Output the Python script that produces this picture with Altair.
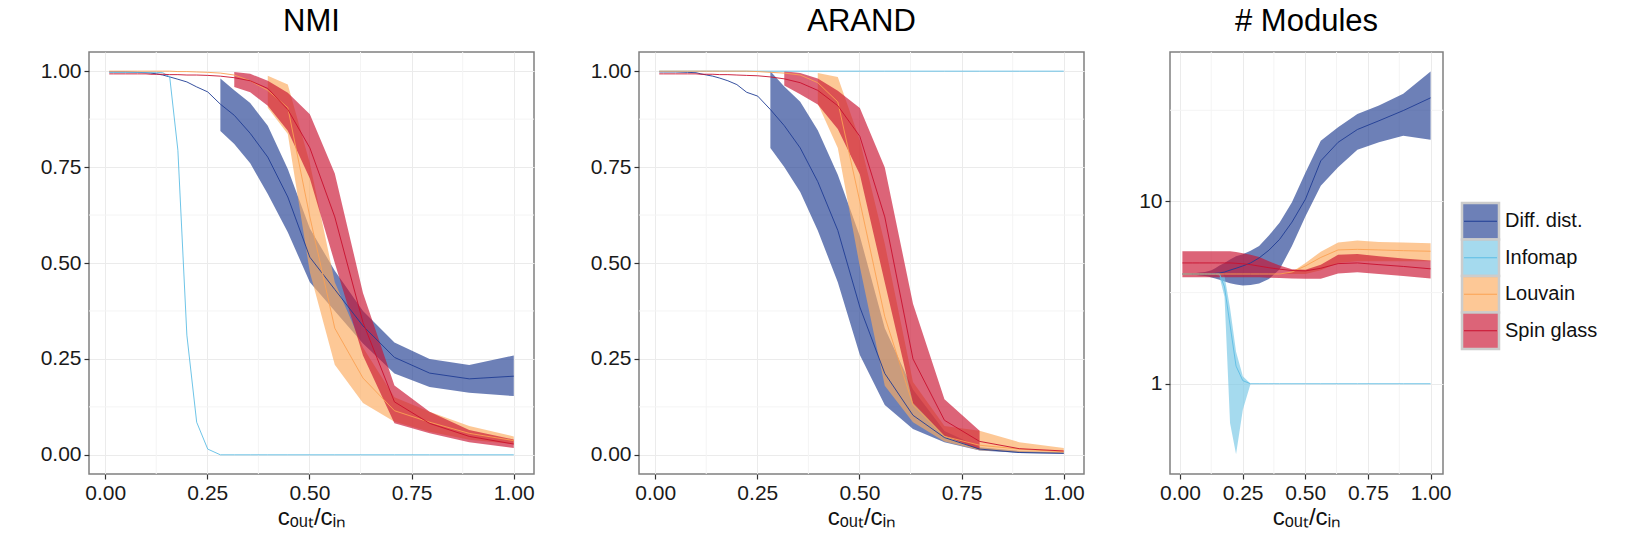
import altair as alt
import pandas as pd

# ---------------- data ----------------
X = [0.010, 0.020, 0.050, 0.079, 0.100, 0.112, 0.126, 0.141, 0.158, 0.178,
     0.200, 0.224, 0.251, 0.282, 0.316, 0.355, 0.398, 0.447, 0.501, 0.562,
     0.631, 0.708, 0.794, 0.891, 1.000]
SERIES = ["Diff. dist.", "Infomap", "Louvain", "Spin glass"]
FILL_COLORS = ["#1e3c91", "#75c6e5", "#fcab5e", "#c91130"]
LINE_COLORS = ["#1f3c94", "#5dbde4", "#fba253", "#c8102e"]
X_TICKS = [0.0, 0.25, 0.5, 0.75, 1.0]
X_MINOR = [0.125, 0.375, 0.625, 0.875]
Y_TICKS = [0.0, 0.25, 0.5, 0.75, 1.0]
Y_MINOR = [0.125, 0.375, 0.625, 0.875]
LOG_TICKS = [1, 10]
LOG_MINOR = [3.162, 31.62]
N = None

# NMI
NMI_DIFF_MID = [0.998, 0.998, 0.998, 0.997, 0.996, 0.995, 0.993, 0.990, 0.985, 0.979,
                0.972, 0.959, 0.946, 0.914, 0.885, 0.838, 0.776, 0.672, 0.515, 0.431,
                0.336, 0.254, 0.213, 0.198, 0.205]
NMI_DIFF_LO = [N] * 13 + [0.844, 0.810, 0.760, 0.680, 0.580, 0.450, 0.375, 0.290, 0.212, 0.177, 0.162, 0.153]
NMI_DIFF_HI = [N] * 13 + [0.981, 0.950, 0.917, 0.858, 0.745, 0.590, 0.480, 0.375, 0.293, 0.250, 0.234, 0.259]
NMI_INFO_MID = [0.997, 0.997, 0.997, 0.997, 0.997, 0.997, 0.997, 0.996, 0.985, 0.794,
                0.312, 0.085, 0.015, 0.0, 0.0, 0.0, 0.0, 0.0, 0.0, 0.0,
                0.0, 0.0, 0.0, 0.0, 0.0]
NMI_INFO_LO = [N] * 25
NMI_INFO_HI = [N] * 25
NMI_LOUV_MID = [1.0, 1.0, 1.0, 1.0, 1.0, 1.0, 1.0, 1.0, 1.0, 0.999,
                0.999, 0.998, 0.997, 0.995, 0.990, 0.975, 0.950, 0.905, 0.620, 0.330,
                0.200, 0.115, 0.085, 0.056, 0.037]
NMI_LOUV_LO = [N] * 16 + [0.905, 0.836, 0.476, 0.235, 0.135, 0.086, 0.060, 0.039, 0.028]
NMI_LOUV_HI = [N] * 16 + [0.988, 0.965, 0.760, 0.450, 0.280, 0.150, 0.112, 0.075, 0.048]
NMI_SPIN_MID = [0.993, 0.993, 0.993, 0.993, 0.993, 0.992, 0.992, 0.992, 0.991, 0.991,
                0.990, 0.990, 0.989, 0.987, 0.983, 0.975, 0.955, 0.900, 0.800, 0.620,
                0.345, 0.138, 0.082, 0.048, 0.028]
NMI_SPIN_LO = [N] * 14 + [0.959, 0.945, 0.910, 0.845, 0.720, 0.500, 0.259, 0.082, 0.056, 0.033, 0.018]
NMI_SPIN_HI = [N] * 14 + [0.998, 0.993, 0.975, 0.944, 0.888, 0.733, 0.422, 0.181, 0.112, 0.065, 0.040]

# ARAND
AR_DIFF_MID = [0.998, 0.998, 0.998, 0.997, 0.996, 0.993, 0.990, 0.987, 0.982, 0.975,
               0.965, 0.945, 0.935, 0.900, 0.858, 0.800, 0.712, 0.585, 0.385, 0.212,
               0.103, 0.045, 0.015, 0.006, 0.004]
AR_DIFF_LO = [N] * 13 + [0.800, 0.750, 0.685, 0.585, 0.450, 0.260, 0.130, 0.067, 0.033, 0.011, 0.005, 0.003]
AR_DIFF_HI = [N] * 13 + [1.000, 0.960, 0.920, 0.846, 0.730, 0.570, 0.330, 0.170, 0.062, 0.020, 0.010, 0.006]
AR_INFO_MID = [1.0] * 25
AR_INFO_LO = [N] * 25
AR_INFO_HI = [N] * 25
AR_LOUV_MID = [1.0, 1.0, 1.0, 1.0, 1.0, 1.0, 1.0, 1.0, 1.0, 1.0,
               1.0, 1.0, 0.999, 0.997, 0.995, 0.990, 0.970, 0.920, 0.660, 0.360,
               0.130, 0.048, 0.025, 0.015, 0.008]
AR_LOUV_LO = [N] * 16 + [0.915, 0.800, 0.490, 0.180, 0.085, 0.035, 0.012, 0.007, 0.004]
AR_LOUV_HI = [N] * 16 + [0.995, 0.985, 0.820, 0.550, 0.190, 0.075, 0.063, 0.033, 0.018]
AR_SPIN_MID = [0.993, 0.993, 0.993, 0.993, 0.993, 0.992, 0.992, 0.992, 0.991, 0.991,
               0.990, 0.989, 0.988, 0.985, 0.980, 0.970, 0.950, 0.910, 0.830, 0.620,
               0.250, 0.090, 0.035, 0.016, 0.010]
AR_SPIN_LO = [N] * 14 + [0.963, 0.940, 0.913, 0.849, 0.731, 0.449, 0.135, 0.050, 0.013, N, N]
AR_SPIN_HI = [N] * 14 + [1.000, 0.995, 0.981, 0.949, 0.904, 0.749, 0.394, 0.145, 0.063, N, N]

# # Modules
MOD_DIFF_MID = [4.0, 4.0, 4.0, 4.0, 4.0, 4.0, 4.02, 4.03, 4.05, 4.1,
                4.2, 4.3, 4.43, 4.6, 4.9, 5.4, 6.2, 7.7, 10.3, 16.7,
                21.1, 24.8, 27.7, 31.5, 37.0]
MOD_DIFF_LO = [4.0, 4.0, 3.97, 3.93, 3.9, 3.87, 3.83, 3.78, 3.72, 3.64,
               3.56, 3.5, 3.46, 3.48, 3.55, 3.75, 4.25, 5.7, 8.3, 12.2,
               15.4, 19.2, 21.1, 22.9, 21.8]
MOD_DIFF_HI = [4.0, 4.0, 4.03, 4.07, 4.1, 4.14, 4.2, 4.3, 4.45, 4.6,
               4.8, 5.0, 5.13, 5.36, 5.7, 6.5, 7.67, 9.9, 14.4, 21.5,
               25.5, 30.2, 33.6, 38.9, 51.6]
MOD_INFO_MID = [4.0] * 9 + [3.4, 2.1, 1.25, 1.04] + [1.0] * 12
MOD_INFO_LO = [N] * 7 + [4.0, 3.85, 3.0, 0.61, 0.41, 0.72, 1.0] + [N] * 11
MOD_INFO_HI = [N] * 7 + [4.0, 4.05, 3.9, 2.6, 1.5, 1.1, 1.0] + [N] * 11
MOD_LOUV_MID = [4.0] * 17 + [4.1, 4.43, 4.93, 5.42, 5.46, 5.42, 5.37, 5.33]
MOD_LOUV_LO = [N] * 16 + [4.0, 4.0, 4.0, 4.2, 4.6, 4.7, 4.7, 4.7, 4.7]
MOD_LOUV_HI = [N] * 16 + [4.0, 4.1, 4.6, 5.3, 5.95, 6.1, 6.0, 5.95, 5.9]
MOD_SPIN_MID = [4.6] * 11 + [4.58, 4.55, 4.5, 4.42, 4.33, 4.25, 4.18, 4.16, 4.3, 4.56, 4.6, 4.5, 4.4, 4.27]
MOD_SPIN_LO = [3.84] * 15 + [3.82, 3.8, 3.78, 3.77, 3.77, 4.03, 4.09, 4.0, 3.9, 3.78]
MOD_SPIN_HI = [5.33] * 11 + [5.28, 5.2, 5.1, 4.95, 4.7, 4.45, 4.25, 4.22, 4.5, 5.1, 5.15, 5.0, 4.86, 4.75]


def long_df(mids, los, his):
    rows = []
    for s, m, l, h in zip(SERIES, mids, los, his):
        for xi, mi, li, hi in zip(X, m, l, h):
            rows.append({"x": xi, "series": s, "mid": mi, "lo": li, "hi": hi})
    return pd.DataFrame(rows)


FONT = "Liberation Sans"
X_TITLE = "cₒᵤₜ/cᵢₙ"
X_SCALE = alt.Scale(domain=[-0.0395, 1.0495], nice=False, zero=False)


def panel(df, title, yscale, yticks, yformat, yminor, extent, width):
    x_axis = alt.Axis(values=X_TICKS, format=".2f", title=X_TITLE, grid=True)
    y_axis = alt.Axis(values=yticks, format=yformat, title=None, grid=True,
                      minExtent=extent, maxExtent=extent)
    fill = alt.Fill("series:N", scale=alt.Scale(domain=SERIES, range=FILL_COLORS), legend=None)
    stroke = alt.Stroke("series:N", scale=alt.Scale(domain=SERIES, range=LINE_COLORS), legend=None)

    vminor = alt.Chart(pd.DataFrame({"v": X_MINOR})).mark_rule(
        color="#f4f4f4", strokeWidth=1).encode(x=alt.X("v:Q", scale=X_SCALE, axis=x_axis))
    hminor = alt.Chart(pd.DataFrame({"w": yminor})).mark_rule(
        color="#f4f4f4", strokeWidth=1).encode(y=alt.Y("w:Q", scale=yscale, axis=y_axis))

    base = alt.Chart(df)
    bands = base.transform_filter("isValid(datum.lo) && isValid(datum.hi)").mark_area(
        fillOpacity=0.65, clip=True).encode(
        x=alt.X("x:Q", scale=X_SCALE, axis=x_axis),
        y=alt.Y("lo:Q", scale=yscale, axis=y_axis),
        y2="hi:Q",
        fill=fill,
    )
    lines = base.mark_line(strokeWidth=0.9, clip=True).encode(
        x=alt.X("x:Q", scale=X_SCALE, axis=x_axis),
        y=alt.Y("mid:Q", scale=yscale, axis=y_axis),
        stroke=stroke,
    )
    return alt.layer(vminor, hminor, bands, lines).properties(
        width=width, height=422,
        title=alt.TitleParams(title, frame="group", anchor="middle", fontSize=31,
                              font=FONT, fontWeight="normal", color="#000000",
                              baseline="alphabetic", offset=-10),
    )


lin_scale = alt.Scale(domain=[-0.05, 1.05], nice=False, zero=False)
log_scale = alt.Scale(type="log", domain=[0.32, 66], nice=False)

nmi_df = long_df([NMI_DIFF_MID, NMI_INFO_MID, NMI_LOUV_MID, NMI_SPIN_MID],
                 [NMI_DIFF_LO, NMI_INFO_LO, NMI_LOUV_LO, NMI_SPIN_LO],
                 [NMI_DIFF_HI, NMI_INFO_HI, NMI_LOUV_HI, NMI_SPIN_HI])
ar_df = long_df([AR_DIFF_MID, AR_INFO_MID, AR_LOUV_MID, AR_SPIN_MID],
                [AR_DIFF_LO, AR_INFO_LO, AR_LOUV_LO, AR_SPIN_LO],
                [AR_DIFF_HI, AR_INFO_HI, AR_LOUV_HI, AR_SPIN_HI])
mod_df = long_df([MOD_DIFF_MID, MOD_INFO_MID, MOD_LOUV_MID, MOD_SPIN_MID],
                 [MOD_DIFF_LO, MOD_INFO_LO, MOD_LOUV_LO, MOD_SPIN_LO],
                 [MOD_DIFF_HI, MOD_INFO_HI, MOD_LOUV_HI, MOD_SPIN_HI])

p1 = panel(nmi_df, "NMI", lin_scale, Y_TICKS, ".2f", Y_MINOR, 83, 445)
p2 = panel(ar_df, "ARAND", lin_scale, Y_TICKS, ".2f", Y_MINOR, 92, 445)
p3 = panel(mod_df, "# Modules", log_scale, LOG_TICKS, "d", LOG_MINOR, 73, 273)

# ---------------- legend (built from the series list) ----------------
leg_df = pd.DataFrame({"series": SERIES})
leg_y = alt.Scale(domain=SERIES, range=[151, 297], paddingInner=0, paddingOuter=0)
leg_keys = alt.Chart(leg_df).mark_rect(stroke="#cccccc", strokeWidth=2.5, fillOpacity=0.65).encode(
    y=alt.Y("series:N", scale=leg_y, axis=None),
    x=alt.value(0), x2=alt.value(37),
    fill=alt.Fill("series:N", scale=alt.Scale(domain=SERIES, range=FILL_COLORS), legend=None),
)
leg_lines = alt.Chart(leg_df).mark_rule(strokeWidth=1).encode(
    y=alt.Y("series:N", scale=leg_y, axis=None, bandPosition=0.5),
    x=alt.value(2), x2=alt.value(35),
    stroke=alt.Stroke("series:N", scale=alt.Scale(domain=SERIES, range=LINE_COLORS), legend=None),
)
leg_text = alt.Chart(leg_df).mark_text(align="left", baseline="middle", fontSize=20,
                                       font=FONT, color="#111111").encode(
    y=alt.Y("series:N", scale=leg_y, axis=None, bandPosition=0.5),
    x=alt.value(43),
    text="series:N",
)
legend = alt.layer(leg_keys, leg_lines, leg_text).properties(
    width=140, height=422, view=alt.ViewBackground(stroke="transparent"))

chart = alt.hconcat(
    alt.hconcat(p1, p2, p3, spacing=10),
    legend,
    spacing=8,
).properties(
    padding={"left": 5, "top": 4, "right": 0, "bottom": 0},
).configure_view(
    stroke="#808080", strokeWidth=1.5,
).configure_axis(
    labelFont=FONT, labelFontSize=21, labelColor="#1a1a1a",
    titleFont=FONT, titleFontSize=24, titleFontWeight="normal", titleColor="#111111",
    tickColor="#333333", tickSize=5, tickWidth=1.2, domain=False,
    gridColor="#ebebeb", gridWidth=1, labelPadding=3, titlePadding=2,
)

chart.save("out.html", embed_options={"renderer": "svg", "actions": False})
